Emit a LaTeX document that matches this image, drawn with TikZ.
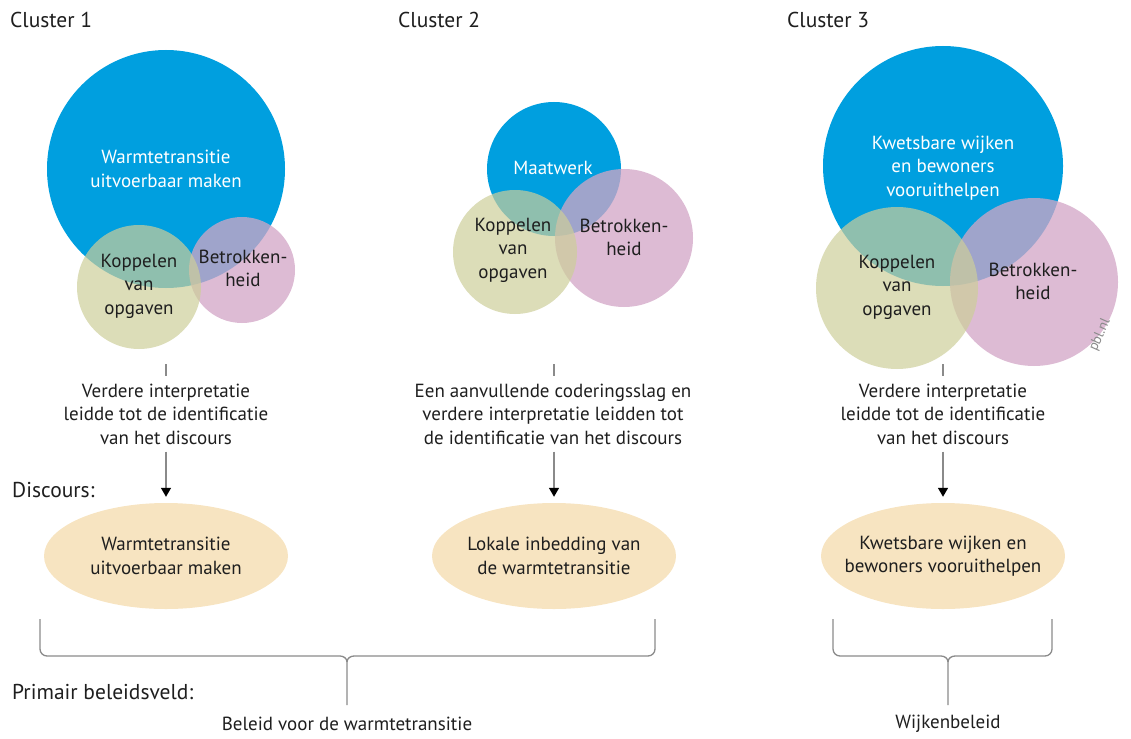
\documentclass[tikz,border=0pt]{standalone}
\usepackage{fontspec}
\setmainfont{PT Sans}
\usetikzlibrary{arrows.meta,shapes.geometric}
\definecolor{cblue}{HTML}{009FDF}
\definecolor{cgreen}{HTML}{CDCE9A}
\definecolor{cpink}{HTML}{D2A6C6}
\definecolor{cpeach}{HTML}{F7E4C1}
\definecolor{ctext}{HTML}{1E1E1E}
\definecolor{cline}{HTML}{8A8A8A}
\tikzset{
  txt/.style={font=\fontsize{19}{23.5}\selectfont, text=ctext, inner sep=0pt, align=center},
  lbl/.style={font=\fontsize{21.5}{25}\selectfont, text=ctext, inner sep=0pt, anchor=west},
  bluec/.style={circle, fill=cblue, inner sep=0pt},
  greenc/.style={circle, fill=cgreen, fill opacity=0.7, inner sep=0pt},
  pinkc/.style={circle, fill=cpink, fill opacity=0.76, inner sep=0pt},
  wtxt/.style={txt, text=white},
  disc/.style={ellipse, fill=cpeach, minimum width=244pt, minimum height=106pt, inner sep=0pt},
  tick/.style={draw=cline, line width=1.2pt},
  arr/.style={draw=cline, line width=1.4pt, -{Triangle[color=black, width=10pt, length=9pt]}},
  brace/.style={draw=cline, line width=1.3pt},
}
\begin{document}
\begin{tikzpicture}[x=1pt, y=-1pt]
\useasboundingbox (0,0) rectangle (1131,738);

% titles
\node[lbl] (cl1) at (10,20) {Cluster 1};
\node[lbl] (cl2) at (398,20) {Cluster 2};
\node[lbl] (cl3) at (787,20) {Cluster 3};

% cluster 1 circles
\node[bluec, minimum size=238pt] (b1) at (166,169) {};
\node[pinkc, minimum size=106pt] (p1) at (242,270) {};
\node[greenc, minimum size=124pt] (g1) at (139,287) {};
\node[wtxt] at (b1.center) {Warmtetransitie\\uitvoerbaar maken};
\node[txt] at (139,286) {Koppelen\\van\\opgaven};
\node[txt] at (243,268.5) {Betrokken-\\heid};

% cluster 2 circles
\node[bluec, minimum size=134pt] (b2) at (554,169) {};
\node[pinkc, minimum size=138pt] (p2) at (624,238) {};
\node[greenc, minimum size=124pt] (g2) at (515,252) {};
\node[wtxt] at (553,168) {Maatwerk};
\node[txt] at (513,250) {Koppelen\\van\\opgaven};
\node[txt] at (624,237.5) {Betrokken-\\heid};

% cluster 3 circles
\node[bluec, minimum size=240pt] (b3) at (943,166) {};
\node[pinkc, minimum size=168pt] (p3) at (1034,282) {};
\node[greenc, minimum size=162pt] (g3) at (897,288) {};
\node[wtxt] at (943,168) {Kwetsbare wijken\\en bewoners\\vooruithelpen};
\node[txt] at (897,287) {Koppelen\\van\\opgaven};
\node[txt] at (1033,281.5) {Betrokken-\\heid};
\node[font=\fontsize{14}{16}\selectfont, text=cline, rotate=66, inner sep=0pt] (pbl) at (1100,335) {pbl.nl};

% interpretation texts
\node[txt] (t1) at (166,414) {Verdere interpretatie\\leidde tot de identificatie\\van het discours};
\node[txt] (t2) at (553,414) {Een aanvullende coderingsslag en\\verdere interpretatie leidden tot\\de identificatie van het discours};
\node[txt] (t3) at (943,414) {Verdere interpretatie\\leidde tot de identificatie\\van het discours};

\coordinate (k1) at (166,364);
\coordinate (k2) at (554,364);
\coordinate (k3) at (943,364);
\draw[tick] (k1) -- ++(0,12);
\draw[tick] (k2) -- ++(0,12);
\draw[tick] (k3) -- ++(0,12);

% discourse
\node[lbl] (dlab) at (12,490) {Discours:};
\node[disc] (d1) at (166,556) {};
\node[txt] at (d1.center) {Warmtetransitie\\uitvoerbaar maken};
\node[disc] (d2) at (554,556) {};
\node[txt] at (d2.center) {Lokale inbedding van\\de warmtetransitie};
\node[disc] (d3) at (943,556) {};
\node[txt] at (d3.center) {Kwetsbare wijken en\\bewoners vooruithelpen};

\draw[arr, shorten <=7pt, shorten >=6pt] (t1.south -| d1.north) -- (d1.north);
\draw[arr, shorten <=7pt, shorten >=6pt] (t2.south -| d2.north) -- (d2.north);
\draw[arr, shorten <=7pt, shorten >=6pt] (t3.south -| d3.north) -- (d3.north);

% policy fields
\node[lbl] (plab) at (12,692) {Primair beleidsveld:};
\node[txt] (pol1) at (347,724) {Beleid voor de warmtetransitie};
\node[txt] (pol2) at (948,724) {Wijkenbeleid};

\coordinate (b1l) at (40,619);
\coordinate (b1r) at (655,619);
\coordinate (b1m) at (347,662);
\draw[brace] (b1l) -- (40,649) to[out=-90,in=180] (47,656) -- (340,656) to[out=0,in=90] (b1m) -- (347,705);
\draw[brace] (b1r) -- (655,649) to[out=-90,in=0] (648,656) -- (354,656) to[out=180,in=90] (b1m);

\coordinate (b3l) at (833,619);
\coordinate (b3r) at (1052,619);
\coordinate (b3m) at (948,662);
\draw[brace] (b3l) -- (833,649) to[out=-90,in=180] (840,656) -- (941,656) to[out=0,in=90] (b3m) -- (948,705);
\draw[brace] (b3r) -- (1052,649) to[out=-90,in=0] (1045,656) -- (955,656) to[out=180,in=90] (b3m);
\end{tikzpicture}
\end{document}
